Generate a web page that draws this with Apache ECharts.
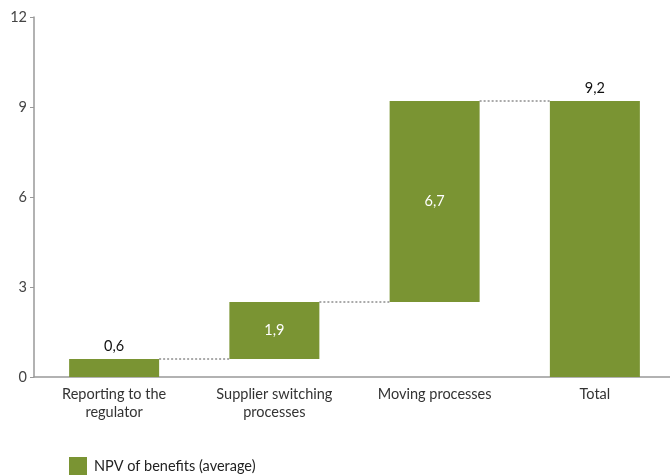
<!DOCTYPE html>
<html><head><meta charset="utf-8">
<script src="https://cdn.jsdelivr.net/npm/echarts@6/dist/echarts.min.js"></script>
<style>html,body{margin:0;padding:0;background:#fff}#c{width:670px;height:475px}</style>
</head><body><div id="c"></div>
<script>
const categories = ['Reporting to the\nregulator', 'Supplier switching\nprocesses', 'Moving processes', 'Total'];
const values = [0.6, 1.9, 6.7, 9.2];
const bases = [0, 0.6, 2.5, 0];
const connectors = [[0, 0.6], [1, 2.5], [2, 9.2]];
const yTicks = [0, 3, 6, 9, 12];
const seriesName = 'NPV of benefits (average)';

const green = '#7A9433';
const font = 'Lato';
const fs = 14.5;
const chart = echarts.init(document.getElementById('c'));
const fmt = v => String(v).replace('.', ',');
chart.setOption({
  animation: false,
  textStyle: { fontFamily: font },
  grid: { left: 34, top: 17, bottom: 98, right: -5, containLabel: false, outerBoundsMode: 'none' },
  legend: {
    data: [seriesName], left: 69, top: 457, padding: 0, itemWidth: 18, itemHeight: 18, itemGap: 7,
    icon: 'rect', textStyle: { fontFamily: font, fontSize: fs, color: '#222', padding: [0, 0, 0, 2] }
  },
  xAxis: {
    type: 'category', data: categories,
    axisLine: { lineStyle: { color: '#999', width: 1.5 } },
    axisTick: { show: false },
    axisLabel: { fontFamily: font, fontSize: fs, color: '#333', margin: 8, lineHeight: 18 }
  },
  yAxis: {
    type: 'value', min: yTicks[0], max: yTicks[yTicks.length - 1], interval: 3,
    axisLine: { show: true, lineStyle: { color: '#999', width: 1.5 } },
    axisTick: { show: true, length: 4, lineStyle: { color: '#999' } },
    splitLine: { show: false },
    axisLabel: { fontFamily: font, fontSize: fs, color: '#444', margin: 7 }
  },
  series: [
    { type: 'bar', stack: 'w', data: bases, barWidth: 90, itemStyle: { color: 'transparent' }, silent: true },
    {
      name: seriesName, type: 'bar', stack: 'w', barWidth: 90, itemStyle: { color: green },
      data: values.map((v, i) => ({
        value: v,
        label: (i === 0 || i === values.length - 1)
          ? { show: true, position: 'top', color: '#111', distance: 5 }
          : { show: true, position: 'inside', color: '#fff' }
      })),
      label: { fontFamily: font, fontSize: fs, formatter: p => fmt(p.value) }
    },
    {
      type: 'custom', data: connectors, silent: true, z: 5,
      renderItem: (params, api) => {
        const p = api.coord([api.value(0), api.value(1)]);
        const bw = api.size([1, 0])[0];
        return {
          type: 'line',
          shape: { x1: p[0] + 45, y1: p[1], x2: p[0] + bw - 45, y2: p[1] },
          style: { stroke: '#555', lineWidth: 1, lineDash: [2, 2] }
        };
      }
    }
  ]
});
</script></body></html>
